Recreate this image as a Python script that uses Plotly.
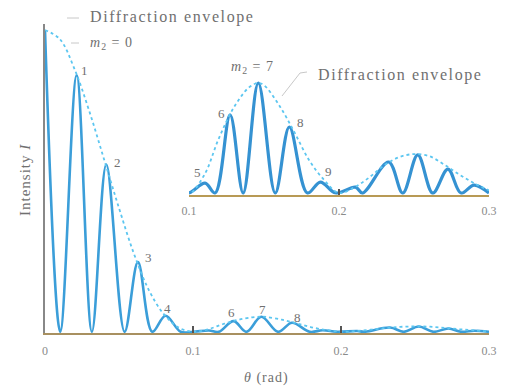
import plotly.graph_objects as go

# ---- data ----
# fringe extrema (alternating maxima / minima) of the two-slit intensity pattern
theta = [0.0, 0.0103, 0.0214, 0.0317, 0.0414, 0.0538, 0.0628, 0.0725, 0.0814, 0.0917,
         0.1, 0.1107, 0.1174, 0.1274, 0.1361, 0.1462, 0.1575, 0.1669, 0.1789, 0.1876,
         0.1977, 0.211, 0.2157, 0.2331, 0.2425, 0.2525, 0.2625, 0.2726, 0.2813, 0.29, 0.3]
intensity = [1.0, 0.0, 0.85, 0.0, 0.554, 0.0, 0.231, 0.0, 0.053, 0.0,
             0.0, 0.0045, 0.0, 0.0355, 0.0, 0.050, 0.0, 0.030, 0.0, 0.005,
             0.0, 0.0027, 0.0, 0.0141, 0.0, 0.0173, 0.0, 0.0109, 0.0, 0.0036, 0.0]

# diffraction envelope
env_theta = [0.0, 0.01, 0.02, 0.03, 0.04, 0.05, 0.06, 0.07, 0.08, 0.09, 0.1,
             0.11, 0.12, 0.13, 0.14, 0.146, 0.15, 0.16, 0.17, 0.18, 0.19, 0.2,
             0.21, 0.22, 0.23, 0.24, 0.25, 0.26, 0.27, 0.28, 0.29, 0.3]
env_intensity = [1.0, 0.97, 0.87, 0.73, 0.57, 0.41, 0.26, 0.14, 0.06, 0.015, 0.0,
                 0.008, 0.025, 0.039, 0.048, 0.050, 0.049, 0.040, 0.028, 0.015, 0.006, 0.0,
                 0.0025, 0.007, 0.0125, 0.0163, 0.0177, 0.0168, 0.013, 0.0085, 0.0045, 0.0012]

# order labels: (label, theta of peak, intensity of peak)
main_orders = ["1", "2", "3", "4", "6", "7", "8"]
main_order_theta = [0.0214, 0.0414, 0.0628, 0.0814, 0.1274, 0.1462, 0.1669]
main_order_int = [0.85, 0.554, 0.231, 0.053, 0.0355, 0.050, 0.030]

inset_orders = ["5", "6", "8", "9"]
inset_order_theta = [0.1107, 0.1274, 0.1669, 0.1876]
inset_order_int = [0.0045, 0.0355, 0.030, 0.005]

tick_vals = [0, 0.1, 0.2, 0.3]
tick_text = ["0", "0.1", "0.2", "0.3"]
inset_tick_vals = [0.1, 0.2, 0.3]
inset_tick_text = ["0.1", "0.2", "0.3"]

# ---- styling ----
CURVE = "#3b9ed9"
ENV = "#5cc6f0"
TXT = "#707070"
SERIF = "Liberation Serif, Times New Roman, serif"

W, H = 512, 389
ML, MR, MT, MB = 37, 31, 16, 64          # page body adds an 8px offset
PW, PH = W - ML - MR, H - MT - MB
X0, Y0 = 45, 333                          # plot origin as seen on screen


def px(xp, yp):
    """screen pixel position -> paper coordinates"""
    return (xp - X0) / PW, (Y0 - yp) / PH


fig = go.Figure()

fig.add_trace(go.Scatter(x=theta, y=intensity, mode="lines",
                         line=dict(color=CURVE, width=2.6, shape="spline", smoothing=1.0),
                         xaxis="x", yaxis="y", hoverinfo="skip"))
fig.add_trace(go.Scatter(x=env_theta, y=env_intensity, mode="lines",
                         line=dict(color=ENV, width=1.8, dash="dot", shape="spline", smoothing=1.0),
                         xaxis="x", yaxis="y", hoverinfo="skip"))
fig.add_trace(go.Scatter(x=theta, y=intensity, mode="lines",
                         line=dict(color="#3592d2", width=3.2, shape="spline", smoothing=1.0),
                         xaxis="x2", yaxis="y2", hoverinfo="skip"))
fig.add_trace(go.Scatter(x=env_theta, y=env_intensity, mode="lines",
                         line=dict(color=ENV, width=1.8, dash="dot", shape="spline", smoothing=1.0),
                         xaxis="x2", yaxis="y2", hoverinfo="skip"))

axis_font = dict(family=SERIF, size=12, color="#8a8a8a")

fig.update_layout(
    width=W, height=H,
    margin=dict(l=ML, r=MR, t=MT, b=MB),
    paper_bgcolor="white", plot_bgcolor="rgba(0,0,0,0)",
    showlegend=False,
    xaxis=dict(domain=[0, 1], range=[0, 0.3], showgrid=False, zeroline=False,
               showline=True, linecolor="#a89060", linewidth=1.5,
               ticks="inside", ticklen=7, tickwidth=1.5, tickcolor="#555555",
               tickvals=tick_vals, ticktext=tick_text, tickfont=axis_font,
               ticklabelstandoff=6, anchor="y"),
    yaxis=dict(domain=[0, 1], range=[-0.004, 1.02], showgrid=False, zeroline=False,
               showline=True, linecolor="#888888", linewidth=1.5,
               showticklabels=False, ticks="", anchor="x"),
    xaxis2=dict(domain=[(189 - X0) / PW, 1.0], range=[0.1, 0.3], showgrid=False, zeroline=False,
                showline=True, linecolor="#b89a55", linewidth=1.5,
                ticks="inside", ticklen=6, tickwidth=1.5, tickcolor="#555555",
                tickvals=inset_tick_vals, ticktext=inset_tick_text, tickfont=axis_font,
                ticklabelstandoff=4, anchor="y2"),
    yaxis2=dict(domain=[(Y0 - 194.8) / PH, (Y0 - 60) / PH], range=[-0.0008, 0.06045],
                showgrid=False, zeroline=False, showline=False, showticklabels=False,
                ticks="", anchor="x2"),
)

ann = []
lab_font = dict(family=SERIF, size=13, color=TXT)

# main order labels
main_shift = [(8, -5), (11, -7), (11, -5), (2, -2), (-2, -1), (1, -2), (5, -4)]
for t, xv, yv, (dx, dy) in zip(main_orders, main_order_theta, main_order_int, main_shift):
    ann.append(dict(text=t, x=xv, y=yv, xref="x", yref="y", xshift=dx, yshift=dy,
                    showarrow=False, font=lab_font, xanchor="center", yanchor="bottom"))

# inset order labels
inset_shift = [(-8, 1), (-9, -8), (11, -5), (8, 1)]
for t, xv, yv, (dx, dy) in zip(inset_orders, inset_order_theta, inset_order_int, inset_shift):
    ann.append(dict(text=t, x=xv, y=yv, xref="x2", yref="y2", xshift=dx, yshift=dy,
                    showarrow=False, font=lab_font, xanchor="center", yanchor="bottom"))


def label(text, xp, yp, size, angle=0):
    xa, ya = px(xp, yp)
    ann.append(dict(text=text, x=xa, y=ya, xref="paper", yref="paper", showarrow=False,
                    xanchor="center", yanchor="middle", textangle=angle,
                    font=dict(family=SERIF, size=size, color=TXT)))


env_text = '<span style="letter-spacing:1.6px">Diffraction envelope</span>'
label(env_text, 172, 17, 16)
label(env_text, 400, 75, 16)
label('<span style="letter-spacing:1px"><i>m</i><sub>2</sub> = 0</span>', 111, 43, 14)
label('<span style="letter-spacing:1px"><i>m</i><sub>2</sub> = 7</span>', 252, 68, 14)
label('<span style="letter-spacing:1px"><i>θ</i> (rad)</span>', 266, 378, 14)
label('<span style="letter-spacing:1px">Intensity <i>I</i></span>', 25, 180, 15, angle=-90)
fig.update_layout(annotations=ann)

# faint leader lines
shapes = []
for (x0, y0, x1, y1) in [(67, 18, 79, 18), (71, 43, 79, 43), (307, 72, 300, 73), (300, 73, 282, 96)]:
    a0, b0 = px(x0, y0)
    a1, b1 = px(x1, y1)
    shapes.append(dict(type="line", xref="paper", yref="paper", x0=a0, y0=b0, x1=a1, y1=b1,
                       line=dict(color="#c8c8c8", width=1)))
fig.update_layout(shapes=shapes)

fig.write_html("out.html")
